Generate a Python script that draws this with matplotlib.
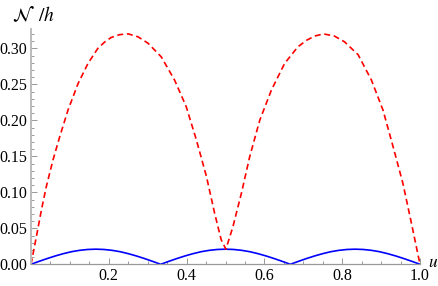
import matplotlib
matplotlib.use("Agg")
import matplotlib.pyplot as plt
from matplotlib.ticker import MultipleLocator, FixedLocator

plt.rcParams['mathtext.fontset'] = 'stix'
plt.rcParams['font.family'] = 'serif'
plt.rcParams['font.serif'] = ['Liberation Serif', 'DejaVu Serif']

# Dashed red curve
red_u = [0.0, 0.0137, 0.0266, 0.0394, 0.0566, 0.0737, 0.095, 0.121, 0.1465, 0.172,
         0.190, 0.206, 0.228, 0.250, 0.275, 0.301, 0.335, 0.369, 0.399, 0.425,
         0.451, 0.472, 0.489, 0.501, 0.519, 0.541, 0.562, 0.588, 0.618, 0.652,
         0.686, 0.708, 0.729, 0.752, 0.780, 0.806, 0.841, 0.875, 0.905, 0.931,
         0.956, 0.978, 1.0]
red_v = [0.0, 0.038, 0.075, 0.108, 0.145, 0.177, 0.214, 0.251, 0.279, 0.300,
         0.309, 0.315, 0.319, 0.320, 0.316, 0.307, 0.288, 0.256, 0.219, 0.173,
         0.122, 0.071, 0.034, 0.021, 0.052, 0.099, 0.149, 0.200, 0.242, 0.279,
         0.302, 0.311, 0.317, 0.320, 0.317, 0.309, 0.291, 0.256, 0.214, 0.163,
         0.1125, 0.057, 0.0]

# Solid blue curve
blue_u = [i / 48 for i in range(49)]
_arc = [0.0, 0.0041, 0.0080, 0.0116, 0.0148, 0.0175, 0.0194, 0.0206, 0.0210,
        0.0206, 0.0194, 0.0175, 0.0148, 0.0116, 0.0080, 0.0041]
blue_v = _arc * 3 + [0.0]

x_major = [0.2, 0.4, 0.6, 0.8, 1.0]
y_major = [0.00, 0.05, 0.10, 0.15, 0.20, 0.25, 0.30]

W, H = 438, 286
fig = plt.figure(figsize=(W / 100, H / 100), dpi=100)
x0, x1 = 31, 420
yb, yt = 264.3, 29.3
ax = fig.add_axes([x0 / W, (H - yb) / H, (x1 - x0) / W, (yb - yt) / H])

ax.plot(blue_u, blue_v, color=(0, 0, 1), lw=1.2, solid_joinstyle='round')
ax.plot(red_u, red_v, color=(1, 0, 0), lw=1.2, dashes=(3.6, 2.2))

ax.set_xlim(0, 1)
ax.set_ylim(0, (yb - yt) / 720.0)

for s in ['top', 'right']:
    ax.spines[s].set_visible(False)
gray = '#999999'
ax.spines['left'].set_color('#bbbbbb')
ax.spines['left'].set_linewidth(1.4)
ax.spines['bottom'].set_color(gray)
ax.spines['bottom'].set_linewidth(0.9)

ax.xaxis.set_major_locator(FixedLocator(x_major))
ax.xaxis.set_minor_locator(MultipleLocator(0.05))
ax.yaxis.set_major_locator(FixedLocator(y_major))
ax.yaxis.set_minor_locator(MultipleLocator(0.01))
ax.set_xticklabels([f"{v:.1f}" for v in x_major])
ax.set_yticklabels([f"{v:.2f}" for v in y_major])

ax.tick_params(which='both', direction='in', colors=gray, labelcolor='black',
               labelsize=11.5, width=0.7)
ax.tick_params(which='major', length=4.5)
ax.tick_params(which='minor', length=2.5)
ax.tick_params(axis='x', pad=3)
ax.tick_params(axis='y', pad=3)

fig.text(428 / W, (H - 267) / H, r'$u$', fontsize=12.5, ha='left', va='baseline')
fig.text(11.5 / W, (H - 21) / H, r'$\mathcal{N}\;\;/h$', fontsize=14, ha='left', va='baseline')

fig.savefig('out.png', dpi=100)
